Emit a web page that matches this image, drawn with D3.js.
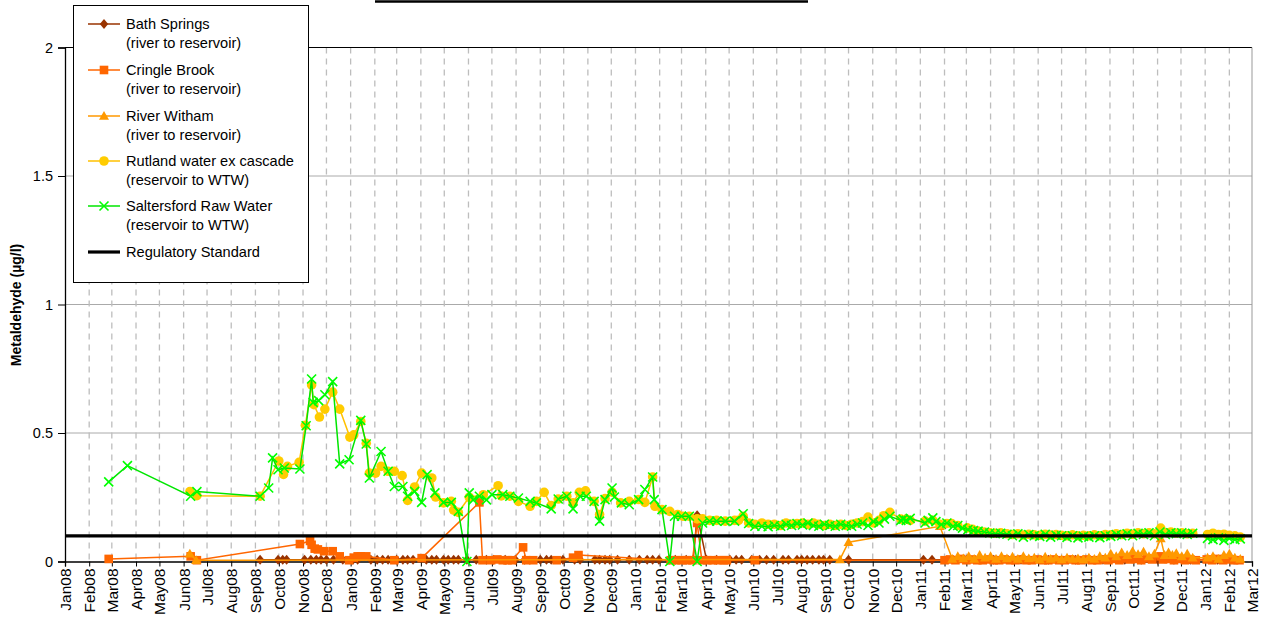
<!DOCTYPE html>
<html><head><meta charset="utf-8">
<script src="https://cdn.jsdelivr.net/npm/d3@7"></script>
<style>
html,body{margin:0;padding:0;background:#fff;}
svg{display:block;font-family:"Liberation Sans",Arial,sans-serif;}
</style></head>
<body><svg id="c" width="1275" height="619"></svg>
<script>
// ---------- DATA ----------
const yTicks = [0, 0.5, 1, 1.5, 2];
const xTickLabels = ["Jan08","Feb08","Mar08","Apr08","May08","Jun08","Jul08","Aug08","Sep08","Oct08","Nov08","Dec08",
"Jan09","Feb09","Mar09","Apr09","May09","Jun09","Jul09","Aug09","Sep09","Oct09","Nov09","Dec09",
"Jan10","Feb10","Mar10","Apr10","May10","Jun10","Jul10","Aug10","Sep10","Oct10","Nov10","Dec10",
"Jan11","Feb11","Mar11","Apr11","May11","Jun11","Jul11","Aug11","Sep11","Oct11","Nov11","Dec11",
"Jan12","Feb12","Mar12"];
const regulatoryStandard = 0.1;

const bathSprings = [
["2008-09-07",0.007],["2008-09-30",0.007],["2008-10-06",0.007],["2008-10-11",0.007],["2008-11-03",0.007],["2008-11-11",0.007],
["2008-11-18",0.007],["2008-11-24",0.007],["2008-12-01",0.007],["2008-12-10",0.007],["2008-12-22",0.007],["2009-01-04",0.007],
["2009-01-10",0.007],["2009-01-27",0.007],["2009-02-04",0.007],["2009-02-11",0.007],["2009-02-18",0.007],["2009-03-01",0.007],
["2009-03-09",0.007],["2009-03-15",0.007],["2009-03-22",0.007],["2009-04-08",0.007],["2009-04-15",0.007],["2009-04-21",0.007],
["2009-04-30",0.007],["2009-05-06",0.007],["2009-05-13",0.007],["2009-05-19",0.007],["2009-05-30",0.007],["2009-06-11",0.007],
["2009-06-24",0.007],["2009-07-03",0.007],["2009-07-18",0.007],["2009-07-31",0.007],["2009-08-12",0.007],["2009-09-01",0.007],
["2009-09-09",0.007],["2009-09-15",0.007],["2009-09-30",0.007],["2009-10-15",0.007],["2009-10-22",0.007],["2009-11-10",0.007],
["2009-11-16",0.007],["2009-11-23",0.007],["2009-11-29",0.007],["2009-12-09",0.007],["2009-12-24",0.007],["2010-01-06",0.007],
["2010-01-16",0.007],["2010-01-23",0.007],["2010-01-31",0.007],["2010-02-13",0.007],["2010-02-21",0.007],["2010-03-07",0.007],
["2010-03-16",0.007],["2010-03-21",0.18],["2010-04-02",0.007],["2010-04-15",0.007],["2010-05-02",0.007],["2010-05-10",0.007],
["2010-05-17",0.007],["2010-05-30",0.007],["2010-06-09",0.007],["2010-06-18",0.007],["2010-06-27",0.007],["2010-07-09",0.007],
["2010-07-16",0.007],["2010-07-27",0.007],["2010-08-02",0.007],["2010-08-09",0.007],["2010-08-16",0.007],["2010-08-24",0.007],
["2010-08-30",0.007],["2010-09-07",0.007],["2010-10-01",0.007],["2011-01-05",0.007],["2011-01-16",0.007],["2011-03-01",0.007],
["2011-04-05",0.007],["2011-05-10",0.007],["2011-06-14",0.007],["2011-07-19",0.007],["2011-08-23",0.007],["2011-09-20",0.007],
["2011-10-11",0.007],["2011-11-01",0.007],["2011-11-22",0.007],["2011-12-13",0.007],["2012-01-17",0.007],["2012-02-07",0.007]
];

const cringleBrook = [
["2008-02-26",0.01],["2008-06-10",0.02],["2008-06-18",0.005],["2008-10-28",0.068],["2008-11-10",0.08],["2008-11-12",0.065],
["2008-11-16",0.05],["2008-11-20",0.047],["2008-11-28",0.04],["2008-12-09",0.04],["2008-12-18",0.02],["2008-12-30",0.005],
["2009-01-05",0.015],["2009-01-10",0.02],["2009-01-14",0.02],["2009-01-21",0.02],["2009-02-26",0.005],["2009-04-02",0.013],
["2009-06-15",0.23],["2009-06-19",0.005],["2009-06-30",0.005],["2009-07-08",0.008],["2009-07-15",0.005],["2009-07-21",0.005],
["2009-07-27",0.005],["2009-08-10",0.055],["2009-08-14",0.005],["2009-08-23",0.005],["2009-09-22",0.005],["2009-10-13",0.015],
["2009-10-20",0.025],["2010-02-15",0.005],["2010-02-22",0.005],["2010-03-01",0.005],["2010-03-08",0.005],["2010-03-15",0.005],
["2010-03-21",0.15],["2010-03-27",0.005],["2010-04-03",0.005],["2010-04-10",0.005],["2010-04-17",0.005],["2010-04-24",0.005],
["2010-04-28",0.005],["2010-06-03",0.005],
["2011-02-01",0.005],["2011-02-08",0.008],["2011-02-15",0.005],["2011-02-22",0.01],["2011-03-01",0.005],["2011-03-08",0.008],
["2011-03-15",0.005],["2011-03-22",0.005],["2011-03-29",0.008],["2011-04-05",0.005],["2011-04-12",0.005],["2011-04-19",0.008],
["2011-04-26",0.005],["2011-05-03",0.005],["2011-05-10",0.008],["2011-05-17",0.005],["2011-05-24",0.005],["2011-05-31",0.008],
["2011-06-07",0.005],["2011-06-14",0.005],["2011-06-21",0.008],["2011-06-28",0.005],["2011-07-05",0.005],["2011-07-12",0.008],
["2011-07-19",0.005],["2011-07-26",0.005],["2011-08-02",0.008],["2011-08-09",0.005],["2011-08-16",0.005],["2011-08-23",0.008],
["2011-08-30",0.005],["2011-09-06",0.01],["2011-09-13",0.005],["2011-09-20",0.012],["2011-09-27",0.008],["2011-10-04",0.01],
["2011-10-11",0.005],["2011-10-18",0.012],["2011-10-25",0.008],["2011-11-05",0.02],["2011-11-08",0.008],["2011-11-15",0.01],
["2011-11-22",0.005],["2011-11-29",0.01],["2011-12-06",0.005],["2011-12-13",0.008],["2011-12-20",0.005],["2012-01-03",0.008],
["2012-01-10",0.005],["2012-01-17",0.01],["2012-01-24",0.005],["2012-01-31",0.008],["2012-02-07",0.005],["2012-02-14",0.005]
];

const riverWitham = [
["2008-06-09",0.03],["2008-06-17",0.005],["2010-09-20",0.008],["2010-10-01",0.075],["2011-01-26",0.137],["2011-02-11",0.01],
["2011-02-18",0.02],["2011-02-25",0.012],["2011-03-04",0.02],["2011-03-11",0.01],["2011-03-18",0.025],["2011-03-25",0.015],
["2011-04-01",0.02],["2011-04-08",0.01],["2011-04-15",0.02],["2011-04-22",0.012],["2011-04-29",0.018],["2011-05-06",0.01],
["2011-05-13",0.02],["2011-05-20",0.012],["2011-05-27",0.015],["2011-06-03",0.008],["2011-06-10",0.018],["2011-06-17",0.01],
["2011-06-24",0.015],["2011-07-01",0.008],["2011-07-08",0.015],["2011-07-15",0.01],["2011-07-22",0.012],["2011-07-29",0.008],
["2011-08-05",0.015],["2011-08-12",0.01],["2011-08-19",0.02],["2011-08-26",0.015],["2011-09-02",0.03],["2011-09-09",0.02],
["2011-09-16",0.035],["2011-09-23",0.025],["2011-09-30",0.04],["2011-10-07",0.028],["2011-10-14",0.038],["2011-10-21",0.02],
["2011-10-28",0.03],["2011-11-05",0.09],["2011-11-10",0.025],["2011-11-15",0.035],["2011-11-20",0.025],["2011-11-25",0.032],
["2011-12-02",0.02],["2011-12-09",0.03],["2011-12-16",0.015],["2012-01-04",0.015],["2012-01-11",0.02],["2012-01-18",0.01],
["2012-01-25",0.025],["2012-02-01",0.03],["2012-02-08",0.015],["2012-02-15",0.01]
];

const rutlandWater = [
["2008-06-09",0.272],["2008-06-18",0.256],["2008-09-07",0.254],["2008-10-01",0.391],["2008-10-07",0.339],["2008-10-12",0.37],
["2008-10-27",0.386],["2008-11-04",0.53],["2008-11-12",0.687],["2008-11-15",0.61],["2008-11-22",0.562],["2008-11-29",0.593],
["2008-12-09",0.659],["2008-12-18",0.593],["2008-12-31",0.484],["2009-01-05",0.493],["2009-01-14",0.545],["2009-01-21",0.46],
["2009-01-25",0.344],["2009-02-02",0.344],["2009-02-09",0.37],["2009-02-18",0.351],["2009-02-26",0.351],["2009-03-08",0.334],
["2009-03-15",0.238],["2009-03-24",0.29],["2009-04-02",0.344],["2009-04-15",0.325],["2009-04-20",0.251],["2009-04-30",0.228],
["2009-05-10",0.234],["2009-05-13",0.2],["2009-05-19",0.191],["2009-06-02",0.25],["2009-06-20",0.26],["2009-07-09",0.295],
["2009-07-13",0.255],["2009-07-24",0.254],["2009-08-04",0.234],["2009-08-19",0.215],["2009-08-27",0.234],["2009-09-06",0.269],
["2009-09-15",0.218],["2009-09-24",0.243],["2009-10-05",0.254],["2009-10-13",0.228],["2009-10-21",0.269],["2009-10-29",0.275],
["2009-11-09",0.234],["2009-11-16",0.183],["2009-11-23",0.245],["2009-12-02",0.27],["2009-12-13",0.228],["2009-12-24",0.234],
["2010-01-05",0.241],["2010-01-13",0.23],["2010-01-23",0.329],["2010-01-26",0.215],["2010-02-04",0.202],["2010-02-14",0.195],
["2010-02-24",0.183],["2010-03-03",0.176],["2010-03-11",0.176],["2010-03-21",0.166],["2010-03-28",0.166],["2010-04-06",0.16],
["2010-04-15",0.16],["2010-04-26",0.157],["2010-05-08",0.16],["2010-05-13",0.16],["2010-05-19",0.176],["2010-05-26",0.15],
["2010-06-03",0.145],["2010-06-12",0.15],["2010-06-20",0.145],["2010-06-28",0.145],["2010-07-06",0.14],["2010-07-13",0.15],
["2010-07-20",0.145],["2010-07-27",0.148],["2010-08-03",0.15],["2010-08-10",0.145],["2010-08-17",0.15],["2010-08-24",0.145],
["2010-08-31",0.14],["2010-09-07",0.145],["2010-09-14",0.14],["2010-09-21",0.145],["2010-09-28",0.14],["2010-10-05",0.145],
["2010-10-12",0.15],["2010-10-19",0.155],["2010-10-26",0.173],["2010-11-02",0.15],["2010-11-09",0.16],["2010-11-15",0.178],
["2010-11-23",0.191],["2010-12-07",0.165],["2010-12-14",0.165],["2010-12-19",0.16],["2011-01-07",0.157],["2011-01-17",0.16],
["2011-01-26",0.145],["2011-02-04",0.148],["2011-02-10",0.148],["2011-02-18",0.14],["2011-03-02",0.131],["2011-03-09",0.125],
["2011-03-16",0.118],["2011-03-24",0.115],["2011-03-31",0.112],["2011-04-07",0.11],["2011-04-14",0.112],["2011-04-22",0.108],
["2011-04-29",0.105],["2011-05-06",0.108],["2011-05-13",0.103],["2011-05-20",0.106],["2011-05-27",0.104],["2011-06-03",0.102],
["2011-06-10",0.106],["2011-06-17",0.103],["2011-06-24",0.105],["2011-07-01",0.102],["2011-07-08",0.1],["2011-07-15",0.104],
["2011-07-22",0.1],["2011-07-29",0.102],["2011-08-05",0.1],["2011-08-12",0.104],["2011-08-19",0.1],["2011-08-26",0.105],
["2011-09-02",0.104],["2011-09-09",0.108],["2011-09-16",0.105],["2011-09-23",0.11],["2011-09-30",0.106],["2011-10-07",0.112],
["2011-10-14",0.108],["2011-10-21",0.112],["2011-10-28",0.108],["2011-11-05",0.13],["2011-11-11",0.112],["2011-11-18",0.115],
["2011-11-25",0.11],["2011-12-02",0.112],["2011-12-09",0.108],["2011-12-16",0.11],[null,null],["2012-01-04",0.105],
["2012-01-11",0.11],["2012-01-18",0.105],["2012-01-25",0.106],["2012-02-01",0.102],["2012-02-08",0.1],["2012-02-15",0.095]
];

const saltersford = [
["2008-02-26",0.31],["2008-03-21",0.373],["2008-06-10",0.254],["2008-06-18",0.272],["2008-09-07",0.254],["2008-09-18",0.286],
["2008-09-23",0.403],["2008-09-30",0.357],["2008-10-08",0.364],["2008-10-28",0.36],["2008-11-05",0.528],["2008-11-12",0.71],
["2008-11-14",0.619],["2008-11-21",0.626],["2008-11-29",0.649],["2008-12-09",0.70],["2008-12-18",0.38],["2008-12-30",0.396],
["2009-01-14",0.549],["2009-01-21",0.457],["2009-01-25",0.325],["2009-02-09",0.428],["2009-02-18",0.351],["2009-02-26",0.292],
["2009-03-09",0.292],["2009-03-15",0.254],["2009-03-24",0.273],["2009-04-02",0.23],["2009-04-09",0.338],["2009-04-19",0.267],
["2009-04-30",0.23],["2009-05-10",0.23],["2009-05-19",0.195],["2009-05-30",0.0],["2009-06-02",0.267],["2009-06-07",0.24],
["2009-06-15",0.254],["2009-06-24",0.24],["2009-07-01",0.26],["2009-07-15",0.26],["2009-07-24",0.254],["2009-08-04",0.247],
["2009-08-19",0.234],["2009-08-27",0.228],["2009-09-15",0.205],["2009-09-24",0.243],["2009-10-05",0.254],["2009-10-13",0.205],
["2009-10-22",0.254],["2009-10-30",0.254],["2009-11-09",0.234],["2009-11-16",0.157],["2009-11-23",0.241],["2009-12-02",0.286],
["2009-12-05",0.251],["2009-12-14",0.228],["2009-12-24",0.221],["2010-01-05",0.241],["2010-01-13",0.28],["2010-01-23",0.329],
["2010-01-25",0.241],["2010-02-04",0.202],["2010-02-14",0.0],["2010-02-20",0.176],["2010-03-01",0.176],["2010-03-11",0.176],
["2010-03-21",0.0],["2010-03-28",0.15],["2010-04-06",0.157],["2010-04-15",0.157],["2010-04-26",0.157],["2010-05-08",0.157],
["2010-05-19",0.186],["2010-05-26",0.148],["2010-06-03",0.137],["2010-06-12",0.137],["2010-06-20",0.135],["2010-06-28",0.14],
["2010-07-06",0.137],["2010-07-13",0.145],["2010-07-20",0.14],["2010-07-27",0.148],["2010-08-03",0.142],["2010-08-10",0.15],
["2010-08-17",0.14],["2010-08-24",0.137],["2010-08-31",0.145],["2010-09-07",0.14],["2010-09-14",0.137],["2010-09-21",0.145],
["2010-09-28",0.14],["2010-10-05",0.137],["2010-10-12",0.145],["2010-10-19",0.15],["2010-10-26",0.14],["2010-11-02",0.155],
["2010-11-09",0.15],["2010-11-16",0.165],["2010-11-23",0.176],["2010-12-07",0.16],["2010-12-10",0.165],["2010-12-14",0.16],
["2010-12-19",0.168],["2011-01-07",0.15],["2011-01-11",0.16],["2011-01-17",0.17],["2011-01-21",0.155],["2011-01-28",0.144],
["2011-02-04",0.15],["2011-02-12",0.137],["2011-02-18",0.14],["2011-02-24",0.13],["2011-03-03",0.124],["2011-03-10",0.12],
["2011-03-16",0.118],["2011-03-24",0.115],["2011-03-31",0.111],["2011-04-07",0.108],["2011-04-14",0.11],["2011-04-22",0.106],
["2011-04-29",0.1],["2011-05-06",0.108],["2011-05-13",0.095],["2011-05-20",0.105],["2011-05-27",0.1],["2011-06-03",0.098],
["2011-06-10",0.106],["2011-06-17",0.095],["2011-06-24",0.102],["2011-07-01",0.1],["2011-07-08",0.094],["2011-07-15",0.1],
["2011-07-22",0.092],["2011-07-29",0.098],["2011-08-05",0.095],["2011-08-12",0.1],["2011-08-19",0.093],["2011-08-26",0.1],
["2011-09-02",0.098],["2011-09-09",0.105],["2011-09-16",0.1],["2011-09-23",0.108],["2011-09-30",0.1],["2011-10-07",0.11],
["2011-10-14",0.105],["2011-10-21",0.112],["2011-10-28",0.1],["2011-11-04",0.115],["2011-11-11",0.105],["2011-11-18",0.112],
["2011-11-25",0.108],["2011-12-02",0.112],["2011-12-09",0.105],["2011-12-16",0.11],[null,null],["2012-01-04",0.09],
["2012-01-11",0.085],["2012-01-18",0.092],["2012-01-25",0.082],["2012-02-01",0.09],["2012-02-08",0.085],["2012-02-15",0.088]
];

const seriesNames = [
 ["Bath Springs","(river to reservoir)"],
 ["Cringle Brook","(river to reservoir)"],
 ["River Witham","(river to reservoir)"],
 ["Rutland water ex cascade","(reservoir to WTW)"],
 ["Saltersford Raw Water","(reservoir to WTW)"]
];
const regulatoryName = "Regulatory Standard";
const yAxisTitle = "Metaldehyde (µg/l)";

// ---------- CHART ----------
const svg = d3.select("#c");
const L = 65, R = 1252, T = 47.5, B = 561.5;
const parse = d3.utcParse("%Y-%m-%d");
const parseTick = d3.utcParse("%b%y");
const tickDates = xTickLabels.map(parseTick);
const x = d3.scaleUtc().domain([tickDates[0], tickDates[tickDates.length-1]]).range([L, R]);
const y = d3.scaleLinear().domain([0, 2]).range([B, T]);

const styles = [
 {color:"#993300", line:"#993300", sym:"diamond"},
 {color:"#FF6600", line:"#FF6600", sym:"square"},
 {color:"#FF9900", line:"#FF9900", sym:"triangle"},
 {color:"#FFCC00", line:"#FFC000", sym:"circle"},
 {color:"#00FF00", line:"#00E600", sym:"cross"}
];

function drawMarker(g, sym, color) {
  if (sym === "diamond") g.append("path").attr("d","M0,-5L4.2,0L0,5L-4.2,0Z").attr("fill",color);
  else if (sym === "square") g.append("rect").attr("x",-4.3).attr("y",-4.3).attr("width",8.6).attr("height",8.6).attr("fill",color);
  else if (sym === "triangle") g.append("path").attr("d","M0,-5L5,3.8L-5,3.8Z").attr("fill",color);
  else if (sym === "circle") g.append("circle").attr("r",4.8).attr("fill",color);
  else if (sym === "cross") g.append("path").attr("d","M-4.5,-4.5L4.5,4.5M-4.5,4.5L4.5,-4.5").attr("stroke",color).attr("stroke-width",1.6).attr("fill","none");
}

// horizontal gridlines
svg.append("g").selectAll("line").data(yTicks.filter(v => v > 0 && v < 2)).join("line")
  .attr("x1", L).attr("x2", R).attr("y1", d => y(d)).attr("y2", d => y(d))
  .attr("stroke", "#aaaaaa").attr("stroke-width", 1);
// vertical dashed gridlines
svg.append("g").selectAll("line").data(tickDates.slice(1, -1)).join("line")
  .attr("x1", d => x(d)).attr("x2", d => x(d)).attr("y1", T).attr("y2", B)
  .attr("stroke", "#bdbdbd").attr("stroke-width", 1.3).attr("stroke-dasharray", "6,5");

// frame: top black, right grey
svg.append("line").attr("x1", L).attr("x2", R).attr("y1", T).attr("y2", T).attr("stroke", "#000").attr("stroke-width", 1.2);
svg.append("line").attr("x1", R).attr("x2", R).attr("y1", T).attr("y2", B).attr("stroke", "#999").attr("stroke-width", 1);

// axes
const yAxis = svg.append("g").attr("transform", `translate(${L},0)`)
  .call(d3.axisLeft(y).tickValues(yTicks).tickFormat(d3.format("")).tickSize(7).tickPadding(5));
yAxis.select(".domain").attr("stroke", "#000").attr("stroke-width", 1.3);
yAxis.selectAll(".tick line").attr("stroke", "#000");
yAxis.selectAll("text").attr("font-size", 14.5).attr("fill", "#000").attr("font-family", "Liberation Sans, Arial, sans-serif");

const xAxis = svg.append("g").attr("transform", `translate(0,${B})`)
  .call(d3.axisBottom(x).tickValues(tickDates).tickFormat((d, i) => xTickLabels[i]).tickSize(5).tickPadding(4));
xAxis.select(".domain").attr("stroke", "#000").attr("stroke-width", 1.3);
xAxis.selectAll(".tick line").attr("stroke", "#000");
xAxis.selectAll("text").attr("font-size", 15.5).attr("fill", "#000").attr("font-family", "Liberation Sans, Arial, sans-serif")
  .attr("text-anchor", "end").attr("transform", "rotate(-90)").attr("x", -7).attr("y", 0).attr("dy", "0.35em");

// y axis title
svg.append("text").attr("transform", `translate(21,305) rotate(-90)`)
  .attr("text-anchor", "middle").attr("font-size", 14).attr("font-weight", "bold").text(yAxisTitle);

// title underline (title text lies above the visible area)
svg.append("line").attr("x1", 375).attr("x2", 808).attr("y1", 1.5).attr("y2", 1.5).attr("stroke", "#000").attr("stroke-width", 2.5);

// series
const allSeries = [bathSprings, cringleBrook, riverWitham, rutlandWater, saltersford];
allSeries.forEach((data, i) => {
  const st = styles[i];
  const pts = data.map(d => ({date: d[0] ? parse(d[0]) : null, v: d[1]}));
  const line = d3.line().defined(d => d.date !== null).x(d => x(d.date)).y(d => y(d.v));
  const g = svg.append("g");
  g.append("path").datum(pts).attr("d", line).attr("fill", "none").attr("stroke", st.line).attr("stroke-width", 1.5);
  g.selectAll("g.m").data(pts.filter(d => d.date !== null)).join("g").attr("class", "m")
    .attr("transform", d => `translate(${x(d.date)},${y(d.v)})`)
    .each(function() { drawMarker(d3.select(this), st.sym, st.color); });
});

// regulatory standard
svg.append("line").attr("x1", L).attr("x2", R).attr("y1", y(regulatoryStandard)).attr("y2", y(regulatoryStandard))
  .attr("stroke", "#000").attr("stroke-width", 3.2);

// legend
const lg = svg.append("g").attr("font-size", 14.6);
lg.append("rect").attr("x", 73.5).attr("y", 5.5).attr("width", 235).attr("height", 277).attr("fill", "#fff").attr("stroke", "#000").attr("stroke-width", 1);
const rowY = [24, 70, 116, 161, 206];
seriesNames.forEach((nm, i) => {
  const st = styles[i];
  const yy = rowY[i];
  lg.append("line").attr("x1", 88).attr("x2", 120).attr("y1", yy).attr("y2", yy).attr("stroke", st.line).attr("stroke-width", 1.5);
  const m = lg.append("g").attr("transform", `translate(104,${yy})`);
  drawMarker(m, st.sym, st.color);
  lg.append("text").attr("x", 126).attr("y", yy).attr("dy", "0.35em").text(nm[0]);
  lg.append("text").attr("x", 126).attr("y", yy + 19).attr("dy", "0.35em").text(nm[1]);
});
lg.append("line").attr("x1", 88).attr("x2", 120).attr("y1", 252).attr("y2", 252).attr("stroke", "#000").attr("stroke-width", 3.2);
lg.append("text").attr("x", 126).attr("y", 252).attr("dy", "0.35em").text(regulatoryName);
</script>
</body></html>
